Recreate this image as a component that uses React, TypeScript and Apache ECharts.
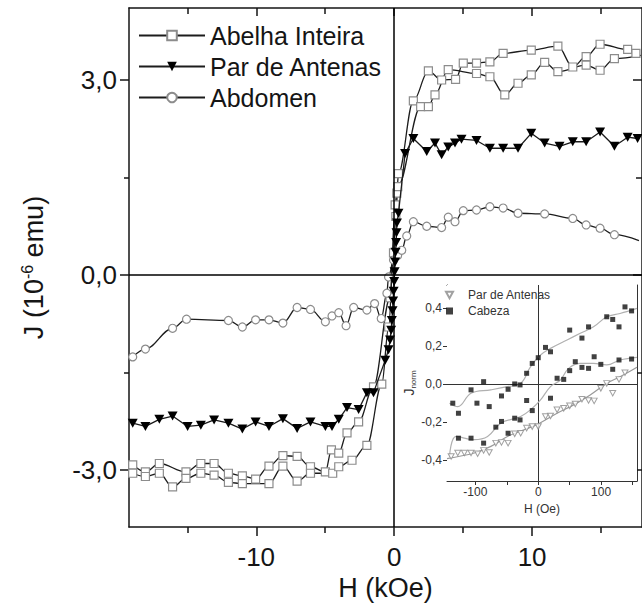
import React, { useEffect, useRef } from "react";
import * as echarts from "echarts";

type P = [number, number];

// ---- main chart data (H in kOe, J in 10^-6 emu) ----
const abelhaDescending: P[] = [
  [-18.96, -2.92], [-18.04, -3.03], [-17.03, -2.9], [-15.1, -3.03], [-14.02, -2.9],
  [-13.06, -2.9], [-12.02, -3.05], [-11.01, -3.09], [-10.05, -3.14], [-9.08, -2.94],
  [-8.07, -2.78], [-7.04, -2.79], [-6.07, -2.95], [-4.99, -3.03], [-4.55, -2.69],
  [-4.02, -2.74], [-3.42, -2.43], [-2.58, -2.26], [-1.5, -1.72], [-0.3, -0.35],
  [0.07, 1.08], [0.19, 1.26], [0.31, 1.56], [1.39, 2.68], [2.48, 3.14], [3.44, 3.0],
  [4.45, 3.01], [5.01, 3.26], [5.97, 3.26], [6.94, 3.28], [7.9, 3.41], [9.94, 3.46],
  [11.87, 3.52], [12.95, 3.2], [13.92, 3.36], [14.93, 3.55], [16.93, 3.47], [17.53, 3.41],
];
const abelhaAscending: P[] = [
  [-18.96, -3.05], [-18.04, -3.1], [-17.03, -3.05], [-16.07, -3.26], [-15.1, -3.13],
  [-14.02, -3.05], [-13.06, -3.08], [-12.02, -3.19], [-11.01, -3.21], [-9.08, -3.21],
  [-8.07, -2.94], [-7.04, -3.17], [-6.07, -3.05], [-4.46, -3.05], [-4.02, -2.95],
  [-3.06, -2.85], [-1.98, -2.62], [-0.9, -1.68], [-0.4, -0.8], [-0.05, 0.34],
  [0.12, 0.9], [0.26, 1.36], [1.92, 2.59], [2.48, 2.59], [2.96, 2.77], [3.92, 3.16],
  [5.97, 3.1], [6.94, 3.05], [8.02, 2.77], [8.98, 2.95], [9.94, 3.08], [10.91, 3.27],
  [11.87, 3.13], [13.92, 3.23], [14.93, 3.15], [15.97, 3.33], [17.9, 3.38],
];
const antenasLoop: P[] = [
  [-18.96, -2.28], [-18.04, -2.33], [-17.03, -2.22], [-16.07, -2.17], [-14.98, -2.33],
  [-14.02, -2.31], [-13.06, -2.23], [-12.02, -2.28], [-11.01, -2.37], [-10.05, -2.26],
  [-9.08, -2.33], [-8.07, -2.21], [-7.04, -2.36], [-6.07, -2.26], [-4.99, -2.33],
  [-4.51, -2.33], [-4.02, -2.22], [-3.42, -2.04], [-2.58, -2.07], [-1.98, -1.81],
  [-1.5, -1.81], [-0.65, -1.31], [-0.41, -1.15], [-0.3, -1.0], [-0.22, -0.85],
  [-0.17, -0.7], [-0.12, -0.55], [-0.08, -0.4], [-0.04, -0.25], [0.0, -0.1],
  [0.03, 0.05], [0.07, 0.2], [0.1, 0.35], [0.14, 0.5], [0.17, 0.65], [0.2, 0.8],
  [0.31, 0.95], [0.79, 1.87], [1.39, 2.1], [2.36, 1.9], [2.96, 2.03], [3.44, 1.85],
  [3.92, 1.97], [4.41, 2.03], [4.88, 2.09], [5.97, 2.07], [6.94, 1.95], [7.9, 1.95],
  [8.98, 1.95], [9.94, 2.18], [10.91, 2.03], [11.99, 1.98], [12.95, 2.05], [13.92, 2.05],
  [14.93, 2.2], [15.97, 1.98], [16.93, 2.12], [17.65, 2.1],
];
const abdomenLoop: P[] = [
  [-18.96, -1.26], [-18.04, -1.14], [-16.07, -0.82], [-15.06, -0.68], [-12.02, -0.7],
  [-11.01, -0.8], [-10.05, -0.69], [-9.08, -0.69], [-8.07, -0.74], [-7.04, -0.5],
  [-6.07, -0.53], [-4.99, -0.72], [-4.51, -0.63], [-4.02, -0.58], [-3.49, -0.78],
  [-2.94, -0.5], [-1.98, -0.54], [-1.42, -0.44], [-0.94, -0.67], [-0.53, -0.28],
  [-0.41, -0.03], [-0.05, 0.23], [0.25, 0.3], [0.55, 0.38], [0.91, 0.6], [1.39, 0.82],
  [2.36, 0.75], [3.44, 0.73], [3.92, 0.89], [4.41, 0.82], [5.01, 0.99], [5.97, 1.0],
  [6.94, 1.05], [7.9, 1.03], [8.98, 0.95], [10.91, 0.94], [12.95, 0.87], [13.92, 0.77],
  [14.93, 0.72], [15.97, 0.62], [17.75, 0.53],
];

// ---- inset data (H in Oe, J normalised) ----
const insetAntenasPoints: P[] = [
  [-138.4, -0.381], [-127.9, -0.363], [-117.4, -0.363], [-106.8, -0.363], [-96.3, -0.367],
  [-86.8, -0.349], [-77.9, -0.36], [-67.4, -0.311], [-58.4, -0.307], [-47.9, -0.311],
  [-37.4, -0.262], [-27.9, -0.259], [-18.4, -0.232], [-9.5, -0.224], [0, -0.224],
  [11.6, -0.171], [19.5, -0.168], [30, -0.136], [40.5, -0.128], [50, -0.115],
  [58.9, -0.105], [69.5, -0.08], [80, -0.087], [88.9, -0.089], [99.5, -0.023],
  [108.9, 0.003], [118.4, -0.049], [128.4, 0.024], [137.9, 0.059],
];
const insetAntenasFit: P[] = [
  [-145, -0.392], [-101.6, -0.363], [-75.3, -0.328], [-48.9, -0.276], [-22.6, -0.241],
  [0, -0.21], [30, -0.154], [56.3, -0.11], [82.6, -0.058], [108.9, 0.003], [130, 0.038],
  [157, 0.088],
];
const insetCabezaPoints: P[] = [
  [-135.8, -0.101], [-126.8, -0.154], [-126.8, -0.285], [-106.8, -0.031], [-106.8, -0.285],
  [-97.4, -0.101], [-86.8, 0.012], [-86.8, -0.311], [-77.9, -0.119], [-67.4, -0.227],
  [-58.4, -0.063], [-58.4, -0.197], [-47.9, -0.028], [-47.9, -0.259], [-37.4, 0.0],
  [-37.4, -0.18], [-28.9, -0.005], [-28.9, -0.189], [-18.4, 0.056], [-18.4, -0.087],
  [-9.5, 0.108], [-9.5, -0.14], [0, 0.138], [11.6, 0.192], [19.5, 0.169], [19.5, -0.075],
  [30, 0.03], [40.5, 0.024], [50, 0.283], [50, 0.07], [58.9, 0.117], [69.5, 0.241],
  [69.5, 0.087], [80, 0.3], [80, 0.082], [88.9, 0.143], [99.5, 0.103], [108.9, 0.353],
  [118.4, 0.339], [118.4, 0.077], [128.4, 0.3], [128.4, 0.126], [137.9, 0.405],
  [148.4, 0.384], [148.4, 0.131],
];
const insetCabezaUpperFit: P[] = [
  [-141, -0.101], [-127.9, -0.119], [-106.8, -0.049], [-75.3, -0.031], [-48.9, -0.014],
  [-27.9, 0.003], [-12.1, 0.091], [3.7, 0.152], [19.5, 0.187], [45.8, 0.231],
  [66.8, 0.266], [87.9, 0.3], [108.9, 0.353], [130, 0.37], [157, 0.397],
];
const insetCabezaLowerFit: P[] = [
  [-141, -0.381], [-130.5, -0.276], [-101.6, -0.293], [-80.5, -0.276], [-59.5, -0.206],
  [-27.9, -0.171], [-9.5, -0.128], [3.7, -0.084], [19.5, -0.014], [35.3, 0.021],
  [48.4, 0.082], [66.8, 0.108], [87.9, 0.108], [108.9, 0.1], [130, 0.126], [157, 0.14],
];

// ---- ticks and labels ----
const mainXMajor = [-10, 0, 10];
const mainXMinor = [-15, -5, 5, 15];
const mainYMajor = [-3, 0, 3];
const mainYMinor = [-1.5, 1.5];
const insetXMajor = [-100, 0, 100];
const insetXTicks = [-100, -50, 0, 50, 100, 150];
const insetYMajor = [-0.4, -0.2, 0, 0.2, 0.4];

const mainLegendNames = ["Abelha Inteira", "Par de Antenas", "Abdomen"];
const insetLegendLabels: Record<string, string> = {
  "inset-antenas": "Par de Antenas",
  "inset-cabeza": "Cabeza",
};

const MAIN_X = { min: -19.23, max: 17.97 };
const MAIN_Y = { min: -3.877, max: 4.108 };
const INSET_X = { min: -145, max: 157 };
const INSET_Y = { min: -0.51, max: 0.52 };

const FONT = "'Liberation Sans', Arial, Helvetica, sans-serif";
const INK = "#151515";
const fmtComma = (v: number) => v.toFixed(1).replace(".", ",");
const TRI_DOWN = "path://M0,0L10,0L5,9Z";

export default function App() {
  const ref = useRef<HTMLDivElement>(null);

  useEffect(() => {
    document.body.style.margin = "0";
    if (!ref.current) return;
    const chart = echarts.init(ref.current, undefined, { renderer: "svg" });

    const mainAxisLine = { show: true, onZero: false, lineStyle: { color: INK, width: 1.5 } };
    const noLine = { show: false, onZero: false };
    const tickLine = { color: INK, width: 1.5 };
    const insetAxisLine = { show: true, onZero: false, lineStyle: { color: "#333", width: 1 } };
    const insetTick = { color: "#333", width: 1 };

    const mxBase = { type: "value", gridIndex: 0, ...MAIN_X, splitLine: { show: false } };
    const myBase = { type: "value", gridIndex: 0, ...MAIN_Y, splitLine: { show: false } };
    const ixBase = { type: "value", gridIndex: 1, ...INSET_X, splitLine: { show: false } };
    const iyBase = { type: "value", gridIndex: 1, ...INSET_Y, splitLine: { show: false } };

    const xAxis: any[] = [
      {
        ...mxBase, position: "bottom", axisLine: mainAxisLine,
        axisTick: { show: true, inside: false, length: 9, customValues: mainXMajor, lineStyle: tickLine },
        axisLabel: {
          show: true, customValues: mainXMajor, fontSize: 26, margin: 17, color: INK,
          fontFamily: FONT, formatter: (v: number) => String(v),
        },
        name: "H (kOe)", nameLocation: "middle", nameGap: 45,
        nameTextStyle: { fontSize: 27, color: INK, fontFamily: FONT },
      },
      {
        ...mxBase, position: "bottom", axisLine: noLine,
        axisTick: { show: true, inside: false, length: 6, customValues: mainXMinor, lineStyle: tickLine },
        axisLabel: { show: false },
      },
      {
        ...mxBase, position: "top", axisLine: mainAxisLine,
        axisTick: { show: true, inside: true, length: 8, customValues: mainXMajor, lineStyle: tickLine },
        axisLabel: { show: false },
      },
      {
        ...mxBase, position: "top", axisLine: noLine,
        axisTick: { show: true, inside: true, length: 6, customValues: mainXMinor, lineStyle: tickLine },
        axisLabel: { show: false },
      },
      {
        ...ixBase, position: "bottom", axisLine: insetAxisLine,
        axisTick: { show: true, inside: false, length: 4, customValues: insetXTicks, lineStyle: insetTick },
        axisLabel: {
          show: true, customValues: insetXMajor, fontSize: 12, margin: 5, color: "#333",
          fontFamily: FONT, formatter: (v: number) => String(v),
        },
        name: "H (Oe)", nameLocation: "middle", nameGap: 22,
        nameTextStyle: { fontSize: 12, color: "#333", fontFamily: FONT },
      },
      {
        ...ixBase, position: "top", axisLine: insetAxisLine,
        axisTick: { show: true, inside: true, length: 4, customValues: insetXTicks, lineStyle: insetTick },
        axisLabel: { show: false },
      },
    ];

    const yAxis: any[] = [
      {
        ...myBase, position: "left", axisLine: mainAxisLine,
        axisTick: { show: true, inside: false, length: 9, customValues: mainYMajor, lineStyle: tickLine },
        axisLabel: {
          show: true, customValues: mainYMajor, fontSize: 26, margin: 12, color: INK,
          fontFamily: FONT, formatter: fmtComma,
        },
        name: "{a|J (10}{b|-6}{a| emu)}", nameLocation: "middle", nameGap: 80, nameRotate: 90,
        nameTextStyle: {
          color: INK, fontFamily: FONT,
          rich: {
            a: { fontSize: 27, color: INK, fontFamily: FONT, lineHeight: 30 },
            b: { fontSize: 16, color: INK, fontFamily: FONT, verticalAlign: "top", lineHeight: 30 },
          },
        },
      },
      {
        ...myBase, position: "left", axisLine: noLine,
        axisTick: { show: true, inside: false, length: 5, customValues: mainYMinor, lineStyle: tickLine },
        axisLabel: { show: false },
      },
      {
        ...myBase, position: "right", axisLine: mainAxisLine,
        axisTick: { show: true, inside: true, length: 9, customValues: mainYMajor, lineStyle: tickLine },
        axisLabel: { show: false },
      },
      {
        ...myBase, position: "right", axisLine: noLine,
        axisTick: { show: true, inside: true, length: 6, customValues: mainYMinor, lineStyle: tickLine },
        axisLabel: { show: false },
      },
      {
        ...iyBase, position: "left", axisLine: insetAxisLine,
        axisTick: { show: true, inside: false, length: 4, customValues: insetYMajor, lineStyle: insetTick },
        axisLabel: {
          show: true, customValues: insetYMajor, fontSize: 12, margin: 5, color: "#333",
          fontFamily: FONT, formatter: fmtComma,
        },
        name: "{j|J}{s|norm}", nameLocation: "middle", nameGap: 28, nameRotate: 90,
        nameTextStyle: {
          color: "#333", fontFamily: FONT,
          rich: {
            j: { fontSize: 14, color: "#333", fontFamily: FONT, lineHeight: 16 },
            s: { fontSize: 8, color: "#333", fontFamily: FONT, verticalAlign: "bottom", lineHeight: 16 },
          },
        },
      },
      {
        ...iyBase, position: "right", axisLine: insetAxisLine,
        axisTick: { show: true, inside: true, length: 4, customValues: insetYMajor, lineStyle: insetTick },
        axisLabel: { show: false },
      },
    ];

    const openMarker = { color: "#ffffff", borderColor: "#8c8c8c", borderWidth: 1.2 };
    const mainLine = { color: "#1c1c1c", width: 1.3 };
    const tailCut = MAIN_X.max - 0.3;

    const series: any[] = [
      {
        type: "line", name: "Abelha Inteira", data: abelhaDescending, xAxisIndex: 0, yAxisIndex: 0,
        smooth: 0.35, smoothMonotone: "x", symbol: "rect", symbolSize: 8, showAllSymbol: true,
        itemStyle: openMarker, lineStyle: mainLine, z: 3,
        markLine: {
          silent: true, symbol: ["none", "none"], label: { show: false },
          lineStyle: { color: "#000", width: 1.5, type: "solid" },
          data: [{ xAxis: 0 }, { yAxis: 0 }],
        },
      },
      {
        type: "line", name: "Abelha Inteira", data: abelhaAscending, xAxisIndex: 0, yAxisIndex: 0,
        smooth: 0.35, smoothMonotone: "x", showAllSymbol: true,
        symbol: (v: number[]) => (v[0] > tailCut ? "none" : "rect"), symbolSize: 8,
        itemStyle: openMarker, lineStyle: mainLine, z: 3,
      },
      {
        type: "line", name: "Par de Antenas", data: antenasLoop, xAxisIndex: 0, yAxisIndex: 0,
        smooth: false, symbol: TRI_DOWN, symbolSize: [10, 9], showAllSymbol: true,
        itemStyle: { color: "#000000" }, lineStyle: mainLine, z: 4,
      },
      {
        type: "line", name: "Abdomen", data: abdomenLoop, xAxisIndex: 0, yAxisIndex: 0,
        smooth: 0.35, smoothMonotone: "x", showAllSymbol: true,
        symbol: (v: number[]) => (v[0] > tailCut ? "none" : "circle"), symbolSize: 8,
        itemStyle: openMarker, lineStyle: mainLine, z: 3,
      },
      {
        type: "line", name: "fit-antenas", data: insetAntenasFit, xAxisIndex: 4, yAxisIndex: 4,
        smooth: 0.4, symbol: "none", lineStyle: { color: "#9a9a9a", width: 1.2 }, z: 5,
      },
      {
        type: "line", name: "fit-cabeza-up", data: insetCabezaUpperFit, xAxisIndex: 4, yAxisIndex: 4,
        smooth: 0.4, symbol: "none", lineStyle: { color: "#b0b0b0", width: 1.2 }, z: 5,
      },
      {
        type: "line", name: "fit-cabeza-down", data: insetCabezaLowerFit, xAxisIndex: 4, yAxisIndex: 4,
        smooth: 0.4, symbol: "none", lineStyle: { color: "#b0b0b0", width: 1.2 }, z: 5,
      },
      {
        type: "scatter", name: "inset-antenas", data: insetAntenasPoints, xAxisIndex: 4, yAxisIndex: 4,
        symbol: TRI_DOWN, symbolSize: [6, 5.5],
        itemStyle: { color: "#ffffff", borderColor: "#8a8a8a", borderWidth: 1 }, z: 6,
      },
      {
        type: "scatter", name: "inset-cabeza", data: insetCabezaPoints, xAxisIndex: 4, yAxisIndex: 4,
        symbol: "rect", symbolSize: 5, itemStyle: { color: "#111111" }, z: 6,
        markLine: {
          silent: true, symbol: ["none", "none"], label: { show: false },
          lineStyle: { color: "#333", width: 1, type: "solid" },
          data: [{ xAxis: 0 }, { yAxis: 0 }],
        },
      },
    ];

    chart.setOption({
      animation: false,
      backgroundColor: "#ffffff",
      textStyle: { fontFamily: FONT },
      grid: [
        { left: 129, top: 8, width: 516, height: 519, show: false },
        {
          left: 447, top: 285, width: 190, height: 196, show: true,
          backgroundColor: "#ffffff", borderWidth: 0, z: 1,
        },
      ],
      xAxis,
      yAxis,
      legend: [
        {
          data: mainLegendNames, orient: "vertical", left: 138, top: 23, padding: 0,
          itemWidth: 66, itemHeight: 12, itemGap: 6, selectedMode: false,
          textStyle: { fontSize: 25, color: INK, fontFamily: FONT, lineHeight: 25 },
        },
        {
          data: Object.keys(insetLegendLabels), orient: "vertical", left: 445, top: 289, padding: 0,
          itemWidth: 7, itemHeight: 7, itemGap: 4, selectedMode: false,
          formatter: (n: string) => insetLegendLabels[n] || n,
          textStyle: { fontSize: 12, color: "#333", fontFamily: FONT, lineHeight: 12, padding: [0, 0, 0, 10] },
        },
      ],
      series,
    });

    return () => chart.dispose();
  }, []);

  return <div ref={ref} style={{ width: 642, height: 607 }} />;
}
